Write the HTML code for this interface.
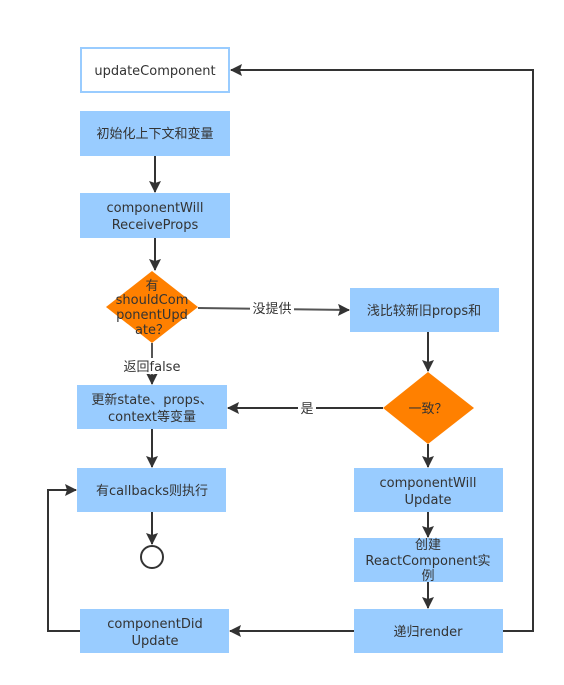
<!DOCTYPE html>
<html><head><meta charset="utf-8">
<style>
html,body{margin:0;padding:0;background:#fff;}
svg{display:block;}
text{font-family:"DejaVu Sans","Noto Sans CJK SC",sans-serif;font-size:13px;fill:#333;text-anchor:middle;}
</style></head><body>
<svg width="564" height="685" viewBox="0 0 564 685" xmlns="http://www.w3.org/2000/svg">
<defs>
<marker id="a" markerWidth="12" markerHeight="12" refX="11" refY="6" orient="auto" markerUnits="userSpaceOnUse">
<path d="M0,0 L12,6 L0,12 L2,6 Z" fill="#333"/>
</marker>
</defs>
<g stroke="#333" stroke-width="2" fill="none">
<line x1="155" y1="156" x2="155" y2="192" marker-end="url(#a)"/>
<line x1="155" y1="238" x2="155" y2="270" marker-end="url(#a)"/>
<line x1="152" y1="343" x2="152" y2="384" marker-end="url(#a)" stroke="#555"/>
<line x1="152" y1="429" x2="152" y2="467" marker-end="url(#a)"/>
<line x1="152" y1="512" x2="152" y2="544" marker-end="url(#a)"/>
<line x1="198" y1="308" x2="349" y2="310" marker-end="url(#a)" stroke="#555"/>
<line x1="428" y1="332" x2="428" y2="371" marker-end="url(#a)"/>
<line x1="428" y1="444" x2="428" y2="467" marker-end="url(#a)"/>
<line x1="428" y1="512" x2="428" y2="537" marker-end="url(#a)"/>
<line x1="428" y1="582" x2="428" y2="608" marker-end="url(#a)"/>
<line x1="383" y1="408" x2="228" y2="408" marker-end="url(#a)"/>
<line x1="354" y1="631" x2="230" y2="631" marker-end="url(#a)"/>
<polyline points="503,631 533,631 533,70 231,70" marker-end="url(#a)"/>
<polyline points="80,631 48,631 48,490 76,490" marker-end="url(#a)"/>
</g>
<rect x="81" y="48" width="148" height="44" fill="#fff" stroke="#99ccff" stroke-width="2"/>
<text x="155" y="75">updateComponent</text>
<rect x="80" y="111" width="150" height="45" fill="#99ccff"/>
<text x="155" y="138">初始化上下文和变量</text>
<rect x="80" y="193" width="150" height="45" fill="#99ccff"/>
<text x="155" y="212">componentWill</text>
<text x="155" y="229">ReceiveProps</text>
<polygon points="152,271 198,307 152,343 106,307" fill="#ff8000"/>
<text x="152" y="290">有</text>
<text x="152" y="304">shouldCom</text>
<text x="152" y="319">ponentUpd</text>
<text x="152" y="334">ate？</text>
<rect x="250" y="301" width="44" height="16" fill="#fff"/>
<text x="272" y="313">没提供</text>
<rect x="350" y="288" width="149" height="44" fill="#99ccff"/>
<text x="424" y="315">浅比较新旧props和</text>
<rect x="120" y="358" width="64" height="16" fill="#fff"/>
<text x="152" y="371">返回false</text>
<polygon points="428,372 474,408 428,444 383,408" fill="#ff8000"/>
<text x="428" y="413">一致？</text>
<rect x="298" y="400" width="18" height="16" fill="#fff"/>
<text x="307" y="413">是</text>
<rect x="77" y="385" width="150" height="44" fill="#99ccff"/>
<text x="152" y="404">更新state、props、</text>
<text x="152" y="421">context等变量</text>
<rect x="77" y="468" width="149" height="44" fill="#99ccff"/>
<text x="152" y="495">有callbacks则执行</text>
<circle cx="152" cy="557" r="11" fill="#fff" stroke="#333" stroke-width="2"/>
<rect x="354" y="468" width="149" height="44" fill="#99ccff"/>
<text x="428" y="487">componentWill</text>
<text x="428" y="504">Update</text>
<rect x="354" y="538" width="149" height="44" fill="#99ccff"/>
<text x="428" y="549">创建</text>
<text x="428" y="565">ReactComponent实</text>
<text x="428" y="580">例</text>
<rect x="354" y="609" width="149" height="44" fill="#99ccff"/>
<text x="428" y="636">递归render</text>
<rect x="80" y="609" width="149" height="44" fill="#99ccff"/>
<text x="155" y="628">componentDid</text>
<text x="155" y="645">Update</text>
</svg>
</body></html>
